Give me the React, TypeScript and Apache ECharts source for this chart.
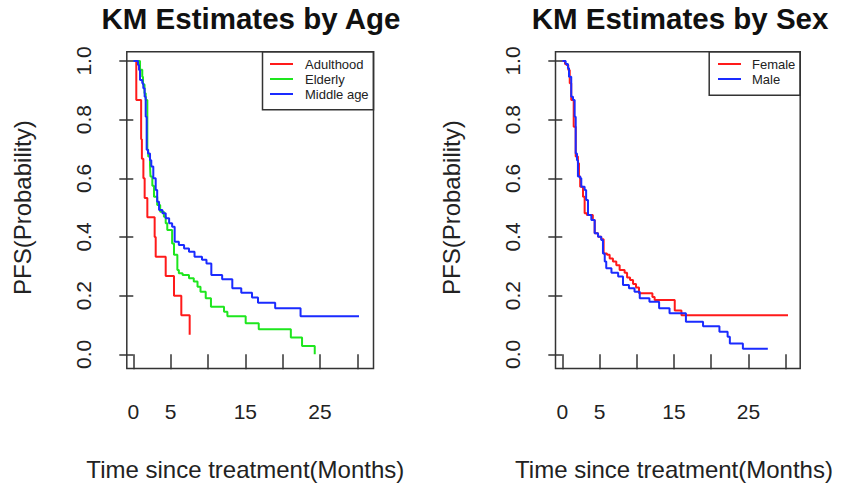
import React, { useEffect, useRef } from "react";
import * as echarts from "echarts";

// ---- Data ----
const adultT = [0, 0.4, 1.05, 1.15, 1.35, 1.52, 1.88, 2.86, 3.0, 4.34, 5.45, 6.43, 7.55];
const adultS = [1, 0.867, 0.733, 0.667, 0.6, 0.533, 0.467, 0.4, 0.333, 0.267, 0.2, 0.133, 0.067];

const elderT = [0, 0.9, 1.2, 1.3, 1.5, 1.66, 1.88, 2.0, 2.24, 2.3, 2.55, 2.77, 3.2, 3.6, 4.1, 4.34, 4.55, 5.2, 5.45, 5.9, 6.1, 6.6, 7.46, 8.1, 8.6, 9.0, 9.7, 10.4, 12.15, 12.6, 15.05, 16.8, 21.1, 22.6, 24.3];
const elderS = [1, 0.97, 0.946, 0.92, 0.89, 0.867, 0.697, 0.674, 0.645, 0.606, 0.575, 0.537, 0.509, 0.486, 0.469, 0.447, 0.424, 0.378, 0.339, 0.287, 0.276, 0.27, 0.259, 0.248, 0.23, 0.213, 0.191, 0.162, 0.145, 0.13, 0.106, 0.085, 0.057, 0.028, 0];

const middleT = [0, 0.63, 0.77, 0.9, 1.2, 1.34, 1.52, 1.66, 1.79, 1.97, 2.24, 2.41, 2.68, 3.0, 3.2, 3.45, 3.9, 4.34, 4.8, 5.2, 5.54, 6.1, 6.8, 7.46, 8.2, 9.2, 9.8, 10.45, 11.9, 13.26, 14.46, 15.9, 16.7, 19.0, 22.4, 30.45];
const middleS = [1, 0.986, 0.969, 0.935, 0.924, 0.907, 0.878, 0.81, 0.697, 0.685, 0.662, 0.64, 0.6, 0.56, 0.52, 0.492, 0.481, 0.464, 0.447, 0.435, 0.384, 0.373, 0.361, 0.35, 0.333, 0.322, 0.31, 0.27, 0.256, 0.225, 0.21, 0.194, 0.176, 0.157, 0.13, 0.13];

const femaleT = [0, 0.36, 0.54, 0.8, 1.0, 1.2, 1.53, 1.8, 2.1, 2.24, 2.4, 2.78, 3.0, 3.3, 4.1, 4.35, 4.8, 5.23, 5.55, 6.0, 6.36, 6.8, 7.25, 7.7, 8.37, 8.7, 9.1, 9.5, 9.9, 10.3, 12.1, 12.4, 15.1, 16.0, 30.4];
const femaleS = [1, 0.99, 0.986, 0.969, 0.924, 0.867, 0.776, 0.674, 0.651, 0.606, 0.571, 0.537, 0.481, 0.475, 0.458, 0.413, 0.401, 0.392, 0.344, 0.339, 0.327, 0.316, 0.304, 0.287, 0.278, 0.262, 0.253, 0.24, 0.228, 0.208, 0.195, 0.185, 0.149, 0.133, 0.133];

const maleT = [0, 0.45, 0.76, 0.9, 1.2, 1.44, 1.66, 1.8, 1.97, 2.1, 2.4, 2.55, 3.0, 3.2, 3.45, 3.9, 4.35, 4.8, 5.23, 5.46, 5.7, 5.9, 6.6, 7.5, 8.15, 8.95, 9.7, 10.4, 11.7, 13.0, 14.4, 16.6, 18.9, 21.1, 22.2, 22.5, 24.25, 27.6];
const maleS = [1, 0.99, 0.975, 0.946, 0.878, 0.867, 0.81, 0.685, 0.662, 0.606, 0.6, 0.571, 0.56, 0.526, 0.475, 0.458, 0.413, 0.401, 0.39, 0.344, 0.316, 0.293, 0.278, 0.265, 0.236, 0.225, 0.213, 0.191, 0.179, 0.157, 0.14, 0.111, 0.096, 0.077, 0.06, 0.037, 0.019, 0.019];

const xTickValues = [0, 5, 10, 15, 20, 25, 30];
const xTickLabels = ["0", "5", "", "15", "", "25", ""];

const ageNames = ["Adulthood", "Elderly", "Middle age"];
const sexNames = ["Female", "Male"];
const titles = ["KM Estimates by Age", "KM Estimates by Sex"];
const xTitle = "Time since treatment(Months)";
const yTitle = "PFS(Probability)";

const RED = "#FF1A1A";
const GREEN = "#1EE61E";
const BLUE = "#1A2BFF";
const FONT = "'Liberation Sans', Arial, sans-serif";
const INK = "#222";

const pairs = (t: number[], s: number[]) => t.map((v, i) => [v, s[i]]);

export default function App() {
  const ref = useRef<HTMLDivElement>(null);
  useEffect(() => {
    if (!ref.current) return;
    const chart = echarts.init(ref.current, undefined, { renderer: "svg" });

    const grids = [
      { left: 133.3, top: 61, width: 224, height: 293.3 },
      { left: 562.3, top: 61, width: 223.4, height: 293.3 },
    ];

    const xAxis = grids.map((_, i) => ({
      type: "value",
      gridIndex: i,
      min: 0,
      max: 30,
      interval: 5,
      offset: 11.7,
      axisLine: { show: false },
      splitLine: { show: false },
      axisTick: { show: true, length: 15, lineStyle: { color: "#333", width: 1.5 } },
      axisLabel: {
        margin: 35,
        fontSize: 21,
        fontFamily: FONT,
        color: INK,
        showMinLabel: true,
        showMaxLabel: true,
        formatter: (v: number) => {
          const k = xTickValues.indexOf(v);
          return k >= 0 ? xTickLabels[k] : "";
        },
      },
      name: xTitle,
      nameLocation: "middle",
      nameGap: 91,
      nameTextStyle: { fontSize: 24, fontFamily: FONT, color: INK },
    }));

    const yAxis = grids.map((_, i) => ({
      type: "value",
      gridIndex: i,
      min: 0,
      max: 1,
      interval: 0.2,
      offset: 9,
      axisLine: { show: false },
      splitLine: { show: false },
      axisTick: { show: true, length: 14, lineStyle: { color: "#333", width: 1.5 } },
      axisLabel: {
        margin: 30,
        rotate: 90,
        fontSize: 21,
        fontFamily: FONT,
        color: INK,
        formatter: (v: number) => v.toFixed(1),
      },
      name: yTitle,
      nameLocation: "middle",
      nameGap: 90,
      nameTextStyle: { fontSize: 24, fontFamily: FONT, color: INK },
    }));

    const mk = (name: string, color: string, t: number[], s: number[], gi: number) => ({
      name,
      type: "line",
      step: "end",
      xAxisIndex: gi,
      yAxisIndex: gi,
      data: pairs(t, s),
      showSymbol: false,
      symbol: "none",
      clip: false,
      lineStyle: { color, width: 2 },
      itemStyle: { color },
    });

    const legendCommon = {
      orient: "vertical",
      itemWidth: 23,
      itemHeight: 2,
      itemGap: 0,
      icon: "rect",
      textStyle: { fontSize: 13, fontFamily: FONT, color: INK, lineHeight: 15 },
      padding: 0,
    };

    const titleStyle = { fontSize: 29.5, fontWeight: "bold", fontFamily: FONT, color: "#111" };

    chart.setOption({
      animation: false,
      backgroundColor: "#fff",
      title: [
        { text: titles[0], left: 246, top: -2, textAlign: "center", textStyle: titleStyle },
        { text: titles[1], left: 675, top: -2, textAlign: "center", textStyle: titleStyle },
      ],
      grid: grids,
      xAxis,
      yAxis,
      legend: [
        { ...legendCommon, left: 270, top: 56.5, data: ageNames, textStyle: { ...legendCommon.textStyle, padding: [0, 0, 0, 7] } },
        { ...legendCommon, left: 718, top: 56.5, data: sexNames, textStyle: { ...legendCommon.textStyle, padding: [0, 0, 0, 6] } },
      ],
      series: [
        mk(ageNames[0], RED, adultT, adultS, 0),
        mk(ageNames[1], GREEN, elderT, elderS, 0),
        mk(ageNames[2], BLUE, middleT, middleS, 0),
        mk(sexNames[0], RED, femaleT, femaleS, 1),
        mk(sexNames[1], BLUE, maleT, maleS, 1),
      ],
      graphic: [
        { type: "rect", left: 124.3, top: 49.3, shape: { width: 246.7, height: 316.7 }, style: { fill: "none", stroke: "#333", lineWidth: 1.5 }, silent: true },
        { type: "rect", left: 553, top: 49.3, shape: { width: 244.7, height: 316.7 }, style: { fill: "none", stroke: "#333", lineWidth: 1.5 }, silent: true },
        { type: "rect", left: 260, top: 49.3, shape: { width: 111, height: 58 }, style: { fill: "none", stroke: "#333", lineWidth: 1.5 }, silent: true },
        { type: "rect", left: 706.7, top: 49.3, shape: { width: 91, height: 43.4 }, style: { fill: "none", stroke: "#333", lineWidth: 1.5 }, silent: true },
      ],
    });

    return () => chart.dispose();
  }, []);

  return (
    <div
      ref={ref}
      style={{ position: "fixed", left: 0, top: 0, width: 841, height: 486, background: "#fff" }}
    />
  );
}
